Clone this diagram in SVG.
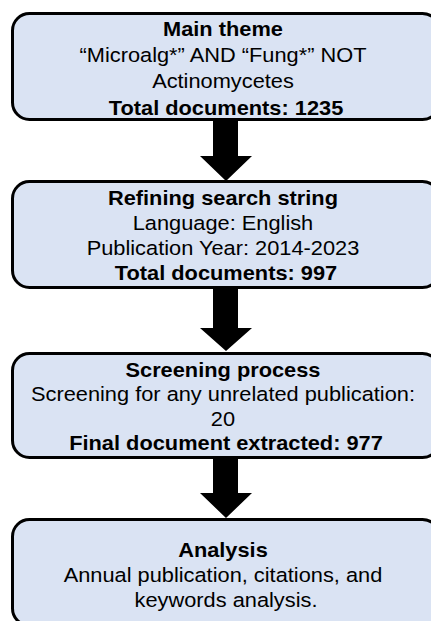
<svg xmlns="http://www.w3.org/2000/svg" width="431" height="621" viewBox="0 0 431 621">
<style>
.box{fill:#DAE3F3;stroke:#000;stroke-width:3}
.t{font-family:"Liberation Sans",Arial,sans-serif;font-size:19.5px;fill:#000;text-anchor:middle}
.b{font-weight:bold}
.arrow{fill:#000;stroke:none}
</style>
<rect width="431" height="621" fill="#fff"/>
<g id="connectors">
<polygon class="arrow" points="213,120 238,120 238,156 252,156 226,181 200,156 213,156"/>
<polygon class="arrow" points="213,288 238,288 238,328 252,328 226,351 200,328 213,328"/>
<polygon class="arrow" points="213,458 238,458 238,493 252,493 226,518 200,493 213,493"/>
</g>
<g id="node-main-theme">
<rect class="box" x="12.5" y="13.5" width="427" height="106" rx="17"/>
<text class="t" transform="translate(226 0) scale(1.118 1)">
<tspan class="b" x="0" y="36">Main theme</tspan>
<tspan x="0" y="62.5">“Microalg*” AND “Fung*” NOT</tspan>
<tspan x="0" y="88.5">Actinomycetes</tspan>
<tspan class="b" x="0" y="115">Total documents: 1235</tspan>
</text>
</g>
<g id="node-refining">
<rect class="box" x="12.5" y="181.5" width="427" height="106" rx="17"/>
<text class="t" transform="translate(226 0) scale(1.118 1)">
<tspan class="b" x="0" y="205">Refining search string</tspan>
<tspan x="0" y="230">Language: English</tspan>
<tspan x="0" y="255">Publication Year: 2014-2023</tspan>
<tspan class="b" x="0" y="280">Total documents: 997</tspan>
</text>
</g>
<g id="node-screening">
<rect class="box" x="12.5" y="353.5" width="427" height="104" rx="17"/>
<text class="t" transform="translate(226 0) scale(1.118 1)">
<tspan class="b" x="0" y="377">Screening process</tspan>
<tspan x="0" y="401">Screening for any unrelated publication:</tspan>
<tspan x="0" y="426">20</tspan>
<tspan class="b" x="0" y="450">Final document extracted: 977</tspan>
</text>
</g>
<g id="node-analysis">
<rect class="box" x="12.5" y="519.5" width="427" height="106" rx="17"/>
<text class="t" transform="translate(226 0) scale(1.118 1)">
<tspan class="b" x="0" y="557">Analysis</tspan>
<tspan x="0" y="582.5">Annual publication, citations, and</tspan>
<tspan x="0" y="607">keywords analysis.</tspan>
</text>
</g>
</svg>
